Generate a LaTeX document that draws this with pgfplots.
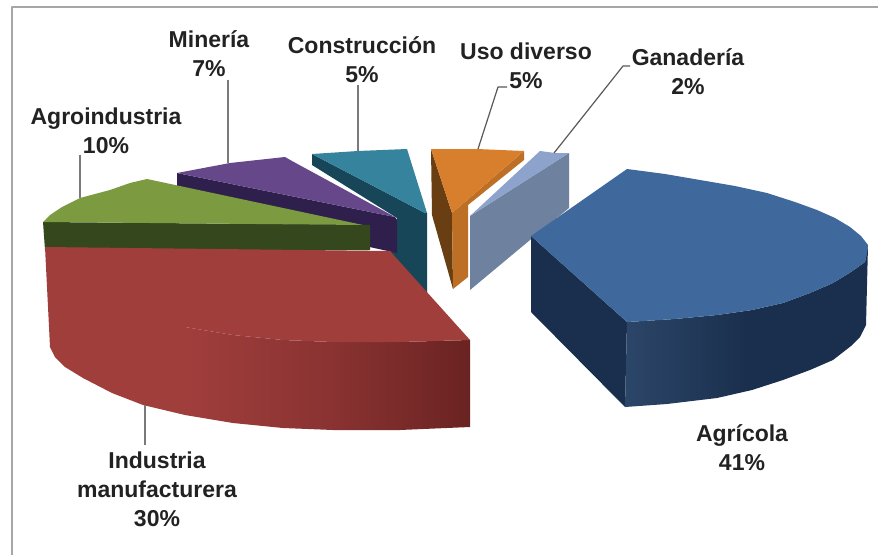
\documentclass[border=0pt]{standalone}
\usepackage{pgfplots}
\pgfplotsset{compat=1.18}
\usepackage{fontspec}
\setmainfont{Liberation Sans}
\definecolor{blueT}{HTML}{3F699C}
\definecolor{blueS}{HTML}{1A2F4D}
\definecolor{blueM}{HTML}{2C4669}
\definecolor{redT}{HTML}{A03E3C}
\definecolor{redM}{HTML}{8A3332}
\definecolor{redD}{HTML}{6A2322}
\definecolor{greenT}{HTML}{7C9A3F}
\definecolor{greenS}{HTML}{35471C}
\definecolor{purpT}{HTML}{65478A}
\definecolor{purpS}{HTML}{2F1F4C}
\definecolor{tealT}{HTML}{36839E}
\definecolor{tealS}{HTML}{174659}
\definecolor{oranT}{HTML}{D77F2C}
\definecolor{oranM}{HTML}{BE6F26}
\definecolor{oranS}{HTML}{683E12}
\definecolor{grayT}{HTML}{8EA3CC}
\definecolor{grayS}{HTML}{6E819F}
\definecolor{txt}{HTML}{222222}
\definecolor{lead}{HTML}{7A7A7A}
\tikzset{lbl/.style={font=\fontsize{23bp}{29bp}\selectfont\bfseries,text=txt,align=center,anchor=center,inner sep=0pt}}
\begin{document}
\begin{tikzpicture}
\begin{axis}[
  width=878bp,height=555bp,scale only axis,
  xmin=0,xmax=878,ymin=0,ymax=555,y dir=reverse,
  hide axis,
  every axis plot/.append style={draw=none,no markers,line join=round}
]
% background and frame
\addplot[fill=white] coordinates {(0,0)(878,0)(878,555)(0,555)} --cycle;
\addplot[draw=black!35,line width=1.5bp] coordinates {(12,555)(12,7)(878,7)};
% Construccion
\addplot[fill=tealS] coordinates {(312,154)(425,213)(427,213)(427,296)(390,256)(397,218)(312,165)} --cycle;
\addplot[fill=tealT] coordinates {(312,154)(358,151)(407,149)(427,213)(425,213)} --cycle;
% Mineria
\addplot[fill=purpS] coordinates {(177,173)(395,217)(397,220)(397,253)(177,205)} --cycle;
\addplot[fill=purpT] coordinates {(177,173)(230,163)(285,157)(292,161)(395,217)} --cycle;
% Agroindustria
\addplot[fill=greenS] coordinates {(43,222)(370,225)(370,250)(45,250)} --cycle;
\addplot[fill=greenT] coordinates {(43,222)(50,215)(62,207)(80,198)(110,190)(130,183)(147,179)(363,225)} --cycle;
% Industria manufacturera
\addplot[left color=redT,right color=redD,middle color=redM] coordinates {(185,327)(233,335)(283,340)(333,342)(400,342)(470,340)(470,427)(400,430)(333,430)(283,428)(233,423)(185,415)} --cycle;
\addplot[fill=redT] coordinates {(45,247)(390,251)(470,340)(400,342)(333,342)(283,340)(233,335)(185,327)(185,415)(143,405)(112,393)(83,378)(65,367)(55,357)(50,347)} --cycle;
% Uso diverso
\addplot[fill=oranS] coordinates {(431,149)(452,213)(453,289)(432,215)} --cycle;
\addplot[fill=oranM] coordinates {(452,213)(524,151)(524,160)(468,205)(468,277)(453,289)} --cycle;
\addplot[fill=oranT] coordinates {(431,149)(477,149)(524,151)(452,213)} --cycle;
% Ganaderia
\addplot[fill=grayS] coordinates {(470,216)(569,153)(569,208)(530,240)(470,290)} --cycle;
\addplot[fill=grayT] coordinates {(470,216)(540,151)(555,153)(569,153)} --cycle;
% Agricola
\addplot[fill=blueS] coordinates {(531,236)(627,322)(625,407)(531,312)} --cycle;
\addplot[left color=blueM,right color=blueS,middle color=blueS] coordinates {(627,322)(675,319)(717,315)(752,310)(783,303)(810,293)(833,283)(851,272)(865,262)(868,245)(866,325)(860,337)(851,346)(833,360)(810,370)(783,380)(752,390)(717,398)(667,404)(625,407)} --cycle;
\addplot[fill=blueT] coordinates {(531,236)(627,169)(665,174)(700,180)(735,186)(767,193)(795,202)(817,210)(835,218)(850,227)(861,236)(868,245)(867,254)(865,262)(851,272)(833,283)(810,293)(783,303)(752,310)(717,315)(675,319)(627,322)} --cycle;
% leader lines
\addplot[draw=lead,line width=1.2bp] coordinates {(228,80)(228,163)};
\addplot[draw=lead,line width=1.2bp] coordinates {(358,85)(358,151)};
\addplot[draw=black!65,line width=1.2bp] coordinates {(507,87)(498,87)(478,149)};
\addplot[draw=black!65,line width=1.2bp] coordinates {(630,66)(623,66)(554,153)};
\addplot[draw=lead,line width=1.2bp] coordinates {(80,155)(80,198)};
\addplot[draw=lead,line width=1.6bp] coordinates {(145,405)(145,445)};
% labels
\node[lbl] at (axis cs:209,54) {Minería\\7\%};
\node[lbl] at (axis cs:362,60) {Construcción\\5\%};
\node[lbl] at (axis cs:526,66) {Uso diverso\\5\%};
\node[lbl] at (axis cs:688,72) {Ganadería\\2\%};
\node[lbl] at (axis cs:106,131) {Agroindustria\\10\%};
\node[lbl] at (axis cs:742,448) {Agrícola\\41\%};
\node[lbl] at (axis cs:157,489) {Industria\\manufacturera\\30\%};
\end{axis}
\end{tikzpicture}
\end{document}
